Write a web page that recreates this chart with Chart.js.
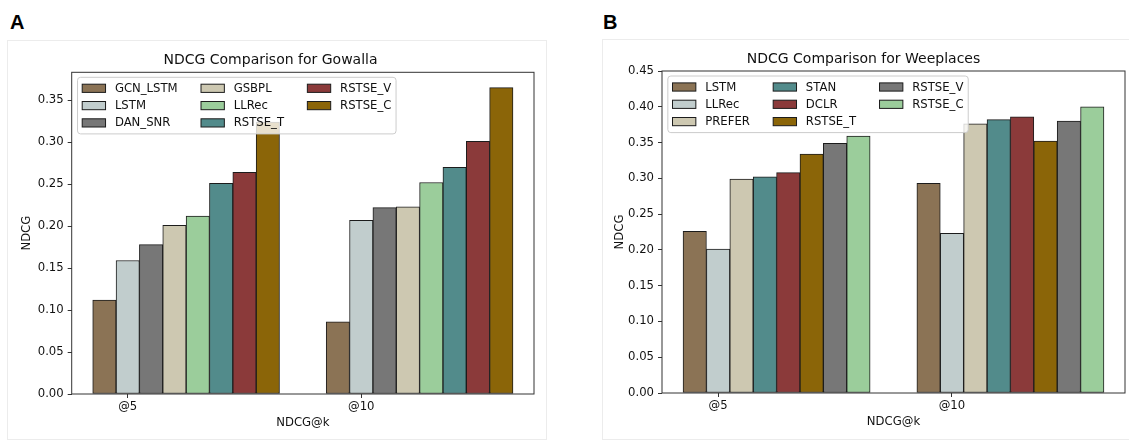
<!DOCTYPE html>
<html>
<head>
<meta charset="utf-8">
<script src="https://cdn.jsdelivr.net/npm/chart.js@4.4.0/dist/chart.umd.min.js"></script>
<style>
  body { margin: 0; width: 1129px; height: 441px; background: #fff; position: relative; overflow: hidden; }
  .card { position: absolute; border: 1px solid #ececec; box-sizing: border-box; }
  .tag { position: absolute; font: bold 20px 'Liberation Sans', Arial, sans-serif; color: #000; line-height: normal; }
  canvas { position: absolute; }
</style>
</head>
<body>
<div class="card" style="left:7px; top:40px; width:540px; height:400px;"></div>
<div class="card" style="left:602px; top:39px; width:600px; height:401px;"></div>
<div class="tag" style="left:10px; top:11px;">A</div>
<div class="tag" style="left:603px; top:11px;">B</div>
<canvas id="gowalla" width="540" height="399" style="left:7px; top:40px;"></canvas>
<canvas id="weeplaces" width="527" height="399" style="left:602px; top:40px;"></canvas>
<script>
// categorías del eje x y ancho de barra (como en el script original: x + i*width)
const CATEGORIES = ['@5', '@10'];
const BAR_W = 0.1;

// Gowalla
const gowallaModels = ['GCN_LSTM', 'LSTM', 'DAN_SNR', 'GSBPL', 'LLRec', 'RSTSE_T', 'RSTSE_V', 'RSTSE_C'];
const gowallaAt5 = [0.112, 0.159, 0.178, 0.201, 0.212, 0.251, 0.264, 0.324];
const gowallaAt10 = [0.086, 0.207, 0.222, 0.223, 0.252, 0.270, 0.301, 0.365];
const gowallaColors = ['#8B7355', '#C1CDCD', '#777777', '#CDC8B1', '#9BCD9B', '#528B8B', '#8B3A3A', '#8B6508'];

// Weeplaces
const weeplacesModels = ['LSTM', 'LLRec', 'PREFER', 'STAN', 'DCLR', 'RSTSE_T', 'RSTSE_V', 'RSTSE_C'];
const weeplacesAt5 = [0.226, 0.201, 0.299, 0.302, 0.308, 0.334, 0.349, 0.359];
const weeplacesAt10 = [0.293, 0.223, 0.376, 0.382, 0.386, 0.352, 0.380, 0.400];
const weeplacesColors = ['#8B7355', '#C1CDCD', '#CDC8B1', '#528B8B', '#8B3A3A', '#8B6508', '#777777', '#9BCD9B'];

const FONT = 'DejaVu Sans';
const FS = 11.67;
const TEXT = '#111';
const SPINE = '#333';

// marco del área y leyenda de 3 columnas (relleno por columnas, estilo matplotlib)
const frameAndLegend = {
    id: 'frameAndLegend',
    afterDatasetsDraw(chart) {
        const { ctx, chartArea: a } = chart;
        ctx.save();
        ctx.strokeStyle = SPINE;
        ctx.lineWidth = 1;
        ctx.strokeRect(a.left, a.top, a.right - a.left, a.bottom - a.top);

        const sets = chart.data.datasets;
        const ncol = 3;
        const rows = Math.ceil(sets.length / ncol);
        const handle = 2 * FS, gap = 0.8 * FS, colGap = 2 * FS, pad = 0.4 * FS, rowH = 17.3;
        ctx.font = FS + 'px "' + FONT + '"';
        const cols = [];
        for (let c = 0; c < ncol; c++) cols.push(sets.slice(c * rows, (c + 1) * rows));
        const widths = cols.map(col => Math.max(...col.map(d => ctx.measureText(d.label).width)));
        let w = pad;
        widths.forEach((tw, c) => { w += handle + gap + tw + (c < ncol - 1 ? colGap : 0); });
        w += pad;
        const h = 22 + (rows - 1) * rowH;
        const bx = a.left + 0.5 * FS, by = a.top + 5;

        ctx.beginPath();
        if (ctx.roundRect) ctx.roundRect(bx, by, w, h, 3); else ctx.rect(bx, by, w, h);
        ctx.fillStyle = 'rgba(255,255,255,0.8)';
        ctx.fill();
        ctx.strokeStyle = '#cccccc';
        ctx.stroke();

        let cx = bx + pad;
        cols.forEach((col, c) => {
            col.forEach((d, r) => {
                const cy = by + 11 + r * rowH;
                ctx.fillStyle = d.backgroundColor;
                ctx.fillRect(cx, cy - 4.1, handle, 8.2);
                ctx.strokeStyle = '#1c1c1c';
                ctx.strokeRect(cx, cy - 4.1, handle, 8.2);
                ctx.fillStyle = TEXT;
                ctx.textBaseline = 'middle';
                ctx.textAlign = 'left';
                ctx.fillText(d.label, cx + handle + gap, cy + 0.5);
            });
            cx += handle + gap + widths[c] + colGap;
        });
        ctx.restore();
    }
};

function crearGrafico(id, titulo, modelos, at5, at10, colores, yMax, lay) {
    // límites del eje x con el margen automático de matplotlib (5%)
    const lo = -BAR_W / 2, hi = CATEGORIES.length - 1 + (modelos.length - 0.5) * BAR_W;
    const margen = 0.05 * (hi - lo);
    const font = { family: FONT, size: FS };

    return new Chart(document.getElementById(id), {
        type: 'bar',
        data: {
            datasets: modelos.map((m, i) => ({
                label: m,
                data: [at5[i], at10[i]].map((v, g) => ({ x: g + i * BAR_W, y: v })),
                backgroundColor: colores[i],
                borderColor: '#1c1c1c',
                borderWidth: 1,
                borderSkipped: false,
                grouped: false,
                categoryPercentage: 1,
                barPercentage: 1
            }))
        },
        options: {
            responsive: false,
            animation: false,
            events: [],
            layout: { padding: { left: 0, right: lay.right, top: 0, bottom: 0 } },
            plugins: {
                legend: { display: false },
                tooltip: { enabled: false },
                title: {
                    display: true,
                    text: titulo,
                    color: TEXT,
                    font: { family: FONT, size: 14, weight: 'normal' },
                    padding: { top: lay.titleTop, bottom: lay.titleBottom }
                }
            },
            scales: {
                x: {
                    type: 'linear',
                    offset: false,
                    min: lo - margen,
                    max: hi + margen,
                    afterBuildTicks: s => { s.ticks = CATEGORIES.map((c, g) => ({ value: g + BAR_W })); },
                    ticks: { callback: (v, i) => CATEGORIES[i], font, color: TEXT, padding: 2, maxRotation: 0, autoSkip: false },
                    grid: { display: true, offset: false, drawOnChartArea: false, drawTicks: true, tickLength: 4, color: SPINE },
                    border: { display: false },
                    title: { display: true, text: 'NDCG@k', font, color: TEXT, padding: { top: 0, bottom: lay.xTitle } },
                    afterFit: s => { s.height = lay.xHeight; }
                },
                y: {
                    min: 0,
                    max: yMax,
                    ticks: { stepSize: 0.05, includeBounds: false, callback: v => v.toFixed(2), font, color: TEXT, padding: 4 },
                    grid: { display: true, drawOnChartArea: false, drawTicks: true, tickLength: 4, color: SPINE },
                    border: { display: false },
                    title: { display: true, text: 'NDCG', font, color: TEXT, padding: { top: lay.yTitle, bottom: 0 } },
                    afterFit: s => { s.width = lay.yWidth; }
                }
            }
        },
        plugins: [frameAndLegend]
    });
}

document.addEventListener('DOMContentLoaded', () => {
    crearGrafico('gowalla', 'NDCG Comparison for Gowalla', gowallaModels, gowallaAt5, gowallaAt10, gowallaColors,
        Math.max(...gowallaAt5, ...gowallaAt10) * 1.05,
        { right: 13, titleTop: 12, titleBottom: 3.5, xHeight: 45, xTitle: 9, yWidth: 64.7, yTitle: 13 });

    crearGrafico('weeplaces', 'NDCG Comparison for Weeplaces', weeplacesModels, weeplacesAt5, weeplacesAt10, weeplacesColors,
        0.45,
        { right: 4, titleTop: 11, titleBottom: 3.2, xHeight: 46, xTitle: 10, yWidth: 60, yTitle: 11 });
});
</script>
</body>
</html>
